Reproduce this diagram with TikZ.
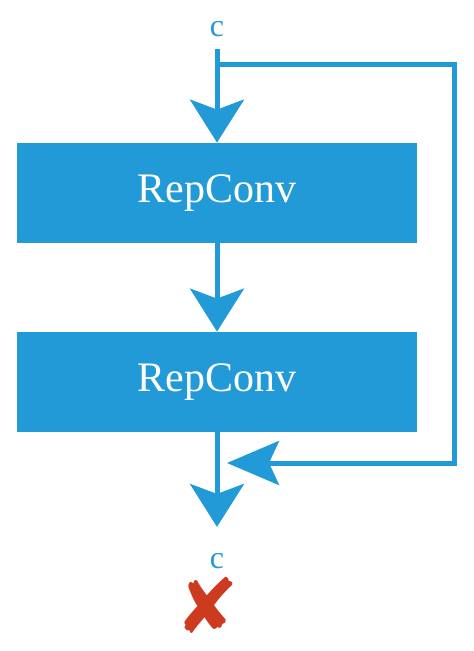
\documentclass[tikz,border=0pt]{standalone}
\usepackage{fontspec}
\usepackage{tikz}
\usetikzlibrary{arrows.meta}
\setmainfont{Liberation Serif}
\newfontfamily\symFont{DejaVu Sans}
\definecolor{repBlue}{RGB}{34,154,216}
\definecolor{markRed}{RGB}{204,58,31}
\tikzset{
  convBox/.style={fill=repBlue,text=white,minimum width=200pt,minimum height=50pt,inner sep=0pt,font=\fontsize{21}{25}\selectfont},
  chanLabel/.style={text=repBlue,inner sep=0pt,font=\fontsize{16}{20}\selectfont},
  flowLine/.style={draw=repBlue,line width=2.5pt},
  flowArrow/.style={flowLine,-{Stealth[length=21.5pt,width=27pt,inset=5pt]}},
  backArrow/.style={flowLine,-{Stealth[length=26pt,width=22pt,inset=5pt]}}
}

\begin{document}
\begin{tikzpicture}[x=0.5pt,y=-0.5pt]
 \useasboundingbox (0,0) rectangle (474,651);
 \node (cIn) [chanLabel] at (217,29) {c};
 \node (convA) [convBox] at (217,193) {RepConv};
 \node (convB) [convBox] at (217,382) {RepConv};
 \node (cOut) [chanLabel] at (217,561) {c};
 \node (mark) [text=markRed,inner sep=0pt,font=\symFont\fontsize{38}{44}\selectfont] at (207,605) {✘};
 \coordinate (split) at (217,65);
 \coordinate (join) at (227,463);
 \coordinate (upRight) at (454,65);
 \coordinate (downRight) at (454,463);
 \draw [flowArrow,shorten <=6pt] (cIn) -- (convA);
 \draw [flowArrow] (convA) -- (convB);
 \draw [flowArrow,shorten >=13pt] (convB) -- (cOut);
 \draw [backArrow,line join=miter] (split) -- (upRight) -- (downRight) -- (join);
\end{tikzpicture}
\end{document}
